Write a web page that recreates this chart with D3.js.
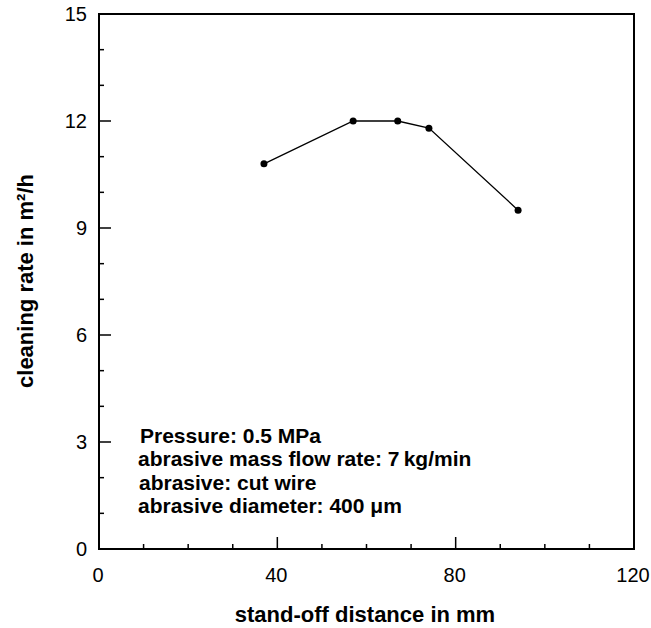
<!DOCTYPE html>
<html>
<head>
<meta charset="utf-8" />
<title>Cleaning rate</title>
<style>
body { margin: 0; background: #fff; }
text { font-family: "Liberation Sans", Arial, sans-serif; fill: #000; }
</style>
</head>
<body>
<div id="chart"></div>
<script src="https://d3js.org/d3.v7.min.js"></script>
<script>
(function(d3) {
'use strict';
var standoff = [37, 57, 67, 74, 94];
var cleaningRate = [10.8, 12.0, 12.0, 11.8, 9.5];
var xTicks = [0, 40, 80, 120];
var yTicks = [0, 3, 6, 9, 12, 15];
var notes = [
  'Pressure: 0.5 MPa',
  'abrasive mass flow rate: 7\u2009kg/min',
  'abrasive: cut wire',
  'abrasive diameter: 400 \u03bcm'
];

var width = 651, height = 628;
var left = 99, right = 634, top = 14, bottom = 549;

var svg = d3.select('#chart').append('svg')
  .attr('width', width)
  .attr('height', height);

var x = d3.scaleLinear().domain([0, 120]).range([left, right]);
var y = d3.scaleLinear().domain([0, 15]).range([bottom, top]);

// frame
svg.append('rect')
  .attr('x', left).attr('y', top)
  .attr('width', right - left).attr('height', bottom - top)
  .attr('fill', 'none').attr('stroke', '#000').attr('stroke-width', 2);

// x ticks (inward)
svg.selectAll('.xt').data(d3.range(10, 120, 10)).enter().append('line')
  .attr('x1', function(d) { return x(d); })
  .attr('x2', function(d) { return x(d); })
  .attr('y1', bottom)
  .attr('y2', function(d) { return bottom - (d % 40 === 0 ? 12 : 5); })
  .attr('stroke', '#000').attr('stroke-width', 1.5);

svg.selectAll('.xl').data(xTicks).enter().append('text')
  .attr('x', function(d) { return x(d) - 1; })
  .attr('y', 582)
  .attr('text-anchor', 'middle')
  .attr('font-size', 20)
  .text(function(d) { return d; });

// y ticks (inward)
svg.selectAll('.yt').data(d3.range(1, 15)).enter().append('line')
  .attr('x1', left)
  .attr('x2', function(d) { return left + (d % 3 === 0 ? 12 : 5); })
  .attr('y1', function(d) { return y(d); })
  .attr('y2', function(d) { return y(d); })
  .attr('stroke', '#000').attr('stroke-width', 1.5);

svg.selectAll('.yl').data(yTicks).enter().append('text')
  .attr('x', 87)
  .attr('y', function(d) { return y(d); })
  .attr('dy', '0.36em')
  .attr('text-anchor', 'end')
  .attr('font-size', 20)
  .text(function(d) { return d; });

// axis titles
svg.append('text')
  .attr('x', 365).attr('y', 622)
  .attr('text-anchor', 'middle')
  .attr('font-size', 22).attr('font-weight', 'bold')
  .text('stand-off distance in mm');

svg.append('text')
  .attr('transform', 'translate(33,281) rotate(-90)')
  .attr('text-anchor', 'middle')
  .attr('font-size', 22).attr('font-weight', 'bold')
  .text('cleaning rate in m\u00b2/h');

// data
var pts = standoff.map(function(d, i) { return [d, cleaningRate[i]]; });
var line = d3.line()
  .x(function(d) { return x(d[0]); })
  .y(function(d) { return y(d[1]); });

svg.append('path')
  .attr('d', line(pts))
  .attr('fill', 'none').attr('stroke', '#000').attr('stroke-width', 1.3);

svg.selectAll('.pt').data(pts).enter().append('circle')
  .attr('cx', function(d) { return x(d[0]); })
  .attr('cy', function(d) { return y(d[1]); })
  .attr('r', 3.5)
  .attr('fill', '#000');

// notes
var noteX = [140, 138, 139, 138];
svg.selectAll('.note').data(notes).enter().append('text')
  .attr('x', function(d, i) { return noteX[i]; })
  .attr('y', function(d, i) { return 443 + i * 23.3; })
  .attr('font-size', 21).attr('font-weight', 'bold')
  .text(function(d) { return d; });
})(window.d3);
</script>
</body>
</html>
